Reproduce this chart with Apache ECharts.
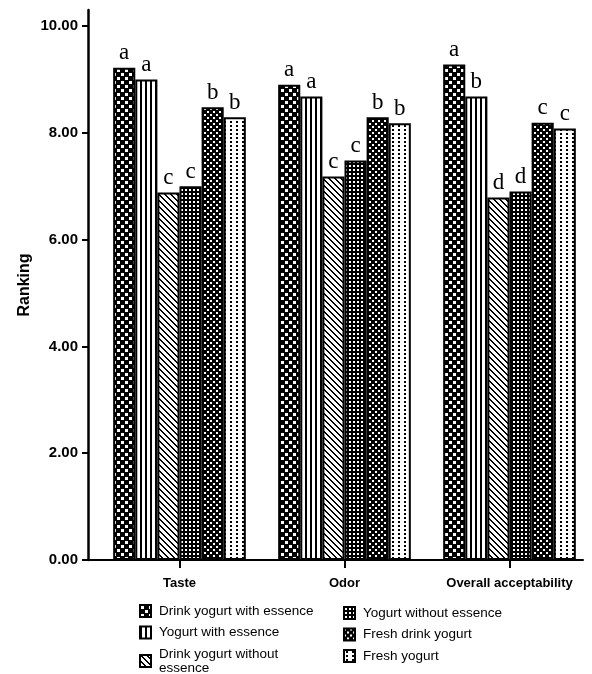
<!DOCTYPE html>
<html>
<head>
<meta charset="utf-8">
<script src="https://cdn.jsdelivr.net/npm/echarts@6/dist/echarts.min.js"></script>
<style>
html,body{margin:0;padding:0;background:#fff;}
#chart{width:592px;height:674px;}
</style>
</head>
<body>
<div id="chart"></div>
<script>
// ---- data ----
const categories = ['Taste', 'Odor', 'Overall acceptability'];
const seriesNames = [
  'Drink yogurt with essence',
  'Yogurt with essence',
  'Drink yogurt without essence',
  'Yogurt without essence',
  'Fresh drink yogurt',
  'Fresh yogurt'
];
const drinkWithEssence    = [9.22, 8.90, 9.28];
const yogurtWithEssence   = [9.00, 8.68, 8.68];
const drinkWithoutEssence = [6.88, 7.18, 6.79];
const yogurtWithoutEssence= [7.00, 7.48, 6.90];
const freshDrinkYogurt    = [8.48, 8.29, 8.19];
const freshYogurt         = [8.29, 8.18, 8.08];
const lettersDrinkWithEssence    = ['a', 'a', 'a'];
const lettersYogurtWithEssence   = ['a', 'a', 'b'];
const lettersDrinkWithoutEssence = ['c', 'c', 'd'];
const lettersYogurtWithoutEssence= ['c', 'c', 'd'];
const lettersFreshDrinkYogurt    = ['b', 'b', 'c'];
const lettersFreshYogurt         = ['b', 'b', 'c'];
const yTickValues = [0, 2, 4, 6, 8, 10];

const seriesValues = [drinkWithEssence, yogurtWithEssence, drinkWithoutEssence,
                      yogurtWithoutEssence, freshDrinkYogurt, freshYogurt];
const seriesLetters = [lettersDrinkWithEssence, lettersYogurtWithEssence, lettersDrinkWithoutEssence,
                       lettersYogurtWithoutEssence, lettersFreshDrinkYogurt, lettersFreshYogurt];

// ---- pattern fills ----
function makePattern(w, h, bg, fg, test) {
  const c = document.createElement('canvas');
  c.width = w; c.height = h;
  const ctx = c.getContext('2d');
  const img = ctx.createImageData(w, h);
  for (let y = 0; y < h; y++) {
    for (let x = 0; x < w; x++) {
      const col = test(x, y) ? fg : bg;
      const i = (y * w + x) * 4;
      img.data[i] = col; img.data[i + 1] = col; img.data[i + 2] = col; img.data[i + 3] = 255;
    }
  }
  ctx.putImageData(img, 0, 0);
  return { image: c, repeat: 'repeat' };
}
const patterns = [
  // checker: black with staggered white squares
  makePattern(8, 8, 0, 255, (x, y) => (x >= 1 && x <= 3 && y >= 1 && y <= 3) || (x >= 5 && x <= 7 && y >= 5 && y <= 7)),
  // vertical stripes
  makePattern(5, 1, 255, 0, (x, y) => x < 2),
  // diagonal stripes "\"
  makePattern(6, 6, 255, 0, (x, y) => ((x - y + 12) % 6) < 2),
  // black with white square grid dots
  makePattern(4, 4, 0, 255, (x, y) => x >= 1 && x <= 2 && y >= 1 && y <= 2),
  // black with staggered small white dots
  makePattern(6, 6, 0, 255, (x, y) => (x >= 0 && x <= 1 && y >= 0 && y <= 1) || (x >= 3 && x <= 4 && y >= 3 && y <= 4)),
  // white with black dotted columns
  makePattern(6, 4, 255, 0, (x, y) => x >= 2 && x <= 3 && y >= 1 && y <= 2)
];

const sansFont = 'Liberation Sans';
const chart = echarts.init(document.getElementById('chart'), null, { renderer: 'canvas' });

const series = seriesNames.map((name, i) => ({
  name: name,
  type: 'bar',
  xAxisIndex: 0,
  yAxisIndex: 0,
  data: seriesValues[i],
  barGap: '0%',
  barCategoryGap: '19.6%',
  itemStyle: { color: patterns[i], borderColor: '#000', borderWidth: 2 },
  label: {
    show: true,
    position: 'top',
    distance: 3,
    formatter: (p) => seriesLetters[i][p.dataIndex],
    fontFamily: 'Liberation Serif',
    fontSize: 23,
    color: '#000'
  }
}));

const legendCommon = {
  orient: 'vertical',
  padding: 0,
  height: 90,
  itemWidth: 11,
  itemHeight: 12,
  itemGap: 7.5,
  selectedMode: false,
  icon: 'rect',
  textStyle: { fontFamily: sansFont, fontSize: 13.5, color: '#000', lineHeight: 14, padding: [0, 0, 0, 3] },
  formatter: (name) => name === 'Drink yogurt without essence' ? 'Drink yogurt without\nessence' : name
};

chart.setOption({
  animation: false,
  backgroundColor: '#fff',
  legend: [
    Object.assign({}, legendCommon, { left: 139, top: 604, data: seriesNames.slice(0, 3) }),
    Object.assign({}, legendCommon, { left: 343, top: 606, data: seriesNames.slice(3, 6) })
  ],
  grid: [
    { left: 97, width: 500, top: 10, bottom: 114, containLabel: false },
    { left: 88, width: 495, top: 10, bottom: 114, containLabel: false }
  ],
  xAxis: [
    {
      type: 'category', gridIndex: 0, data: categories,
      axisLine: { show: false },
      axisTick: { show: true, alignWithLabel: true, length: 8, lineStyle: { color: '#000', width: 2 } },
      axisLabel: { margin: 17, fontFamily: sansFont, fontWeight: 'bold', fontSize: 13, color: '#000' }
    },
    {
      type: 'value', gridIndex: 1, min: 0, max: 1,
      axisLine: { show: true, lineStyle: { color: '#000', width: 2 } },
      axisTick: { show: false }, axisLabel: { show: false }, splitLine: { show: false }
    }
  ],
  yAxis: [
    {
      type: 'value', gridIndex: 0, min: 0, max: 10.3,
      show: false, splitLine: { show: false }
    },
    {
      type: 'value', gridIndex: 1, min: 0, max: 10.3, interval: 2,
      name: 'Ranking', nameLocation: 'middle', nameGap: 55, nameMoveOverlap: false,
      nameTextStyle: { fontFamily: sansFont, fontWeight: 'bold', fontSize: 16, color: '#000' },
      axisLine: { show: true, lineStyle: { color: '#000', width: 2.5 } },
      axisTick: { show: true, length: 6, customValues: yTickValues, lineStyle: { color: '#000', width: 2 } },
      axisLabel: {
        customValues: yTickValues, margin: 10,
        formatter: (v) => v.toFixed(2),
        fontFamily: sansFont, fontWeight: 'bold', fontSize: 15, color: '#000'
      },
      splitLine: { show: false }
    }
  ],
  series: series
});
</script>
</body>
</html>
